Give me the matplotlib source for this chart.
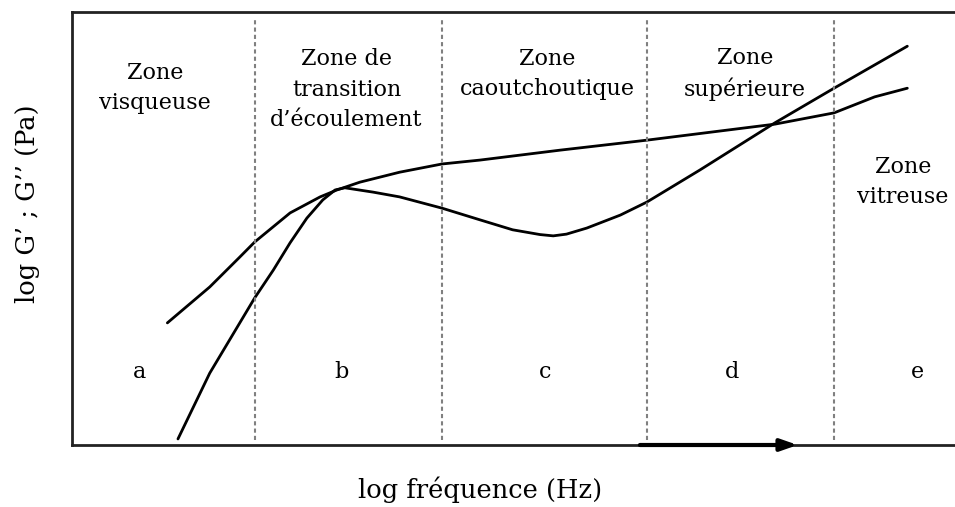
import matplotlib.pyplot as plt

plt.rcParams['font.family'] = ['DejaVu Serif']

# G'' curve (log freq, log modulus), arbitrary units 0-10
g2_x = [1.08, 1.56, 1.90, 2.07, 2.47, 2.81, 3.00, 3.26, 3.71, 4.19, 4.62, 5.53, 6.51, 7.96,
        8.63, 9.09, 9.46]
g2_y = [2.82, 3.65, 4.34, 4.69, 5.36, 5.73, 5.89, 6.07, 6.30, 6.49, 6.58, 6.81, 7.04, 7.41,
        7.67, 8.04, 8.24]

# G' curve
g1_x = [1.20, 1.56, 2.07, 2.28, 2.47, 2.66, 2.84, 2.98, 3.09, 3.41, 3.71, 4.19, 4.62, 4.99,
        5.30, 5.45, 5.60, 5.83, 6.21, 6.51, 7.11, 7.96, 8.63, 9.46]
g1_y = [0.14, 1.66, 3.40, 4.04, 4.67, 5.24, 5.66, 5.89, 5.94, 5.84, 5.73, 5.47, 5.20, 4.97,
        4.86, 4.83, 4.87, 5.01, 5.31, 5.61, 6.35, 7.44, 8.24, 9.21]

boundaries = [2.07, 4.19, 6.51, 8.63]

zone_labels = ["Zone\nvisqueuse", "Zone de\ntransition\nd\u2019\u00e9coulement",
               "Zone\ncaoutchoutique", "Zone\nsup\u00e9rieure", "Zone\nvitreuse"]
zone_x = [0.94, 3.11, 5.38, 7.62, 9.41]
zone_y = [8.24, 8.20, 8.57, 8.57, 6.07]

letters = ["a", "b", "c", "d", "e"]
letter_x = [0.77, 3.05, 5.36, 7.47, 9.58]
letter_y = 1.69

arrow_start, arrow_end = 6.40, 8.25

fig = plt.figure(figsize=(9.55, 5.07), dpi=100)
ax = fig.add_axes([72 / 955, 62 / 507, 883 / 955, 433 / 507])
ax.set_xlim(0, 10)
ax.set_ylim(0, 10)

ax.plot(g2_x, g2_y, color='black', lw=2, solid_capstyle='round', solid_joinstyle='round')
ax.plot(g1_x, g1_y, color='black', lw=2, solid_capstyle='round', solid_joinstyle='round')

for b in boundaries:
    ax.plot([b, b], [0.12, 9.82], color='#808080', lw=1.5, ls=(0, (2, 1.5)))

for lab, x, y in zip(zone_labels, zone_x, zone_y):
    ax.text(x, y, lab, ha='center', va='center', fontsize=16, linespacing=1.5)

for lab, x in zip(letters, letter_x):
    ax.text(x, letter_y, lab, ha='center', va='center', fontsize=16)

ax.annotate('', xy=(arrow_end, 0), xytext=(arrow_start, 0),
            arrowprops=dict(arrowstyle='-|>,head_length=1.0,head_width=0.35', color='black', lw=3),
            annotation_clip=False)

ax.set_xticks([])
ax.set_yticks([])
for s in ['left', 'bottom', 'top']:
    ax.spines[s].set_linewidth(2)
    ax.spines[s].set_color('#222222')
ax.spines['right'].set_visible(False)

fig.text(480 / 955, 1 - 490 / 507, "log fr\u00e9quence (Hz)", ha='center', va='center', fontsize=18.5)
fig.text(28 / 955, 1 - 204 / 507, "log G\u2019 ; G\u2019\u2019 (Pa)", ha='center', va='center',
         fontsize=18.5, rotation=90)

fig.savefig('out.png', dpi=100)
